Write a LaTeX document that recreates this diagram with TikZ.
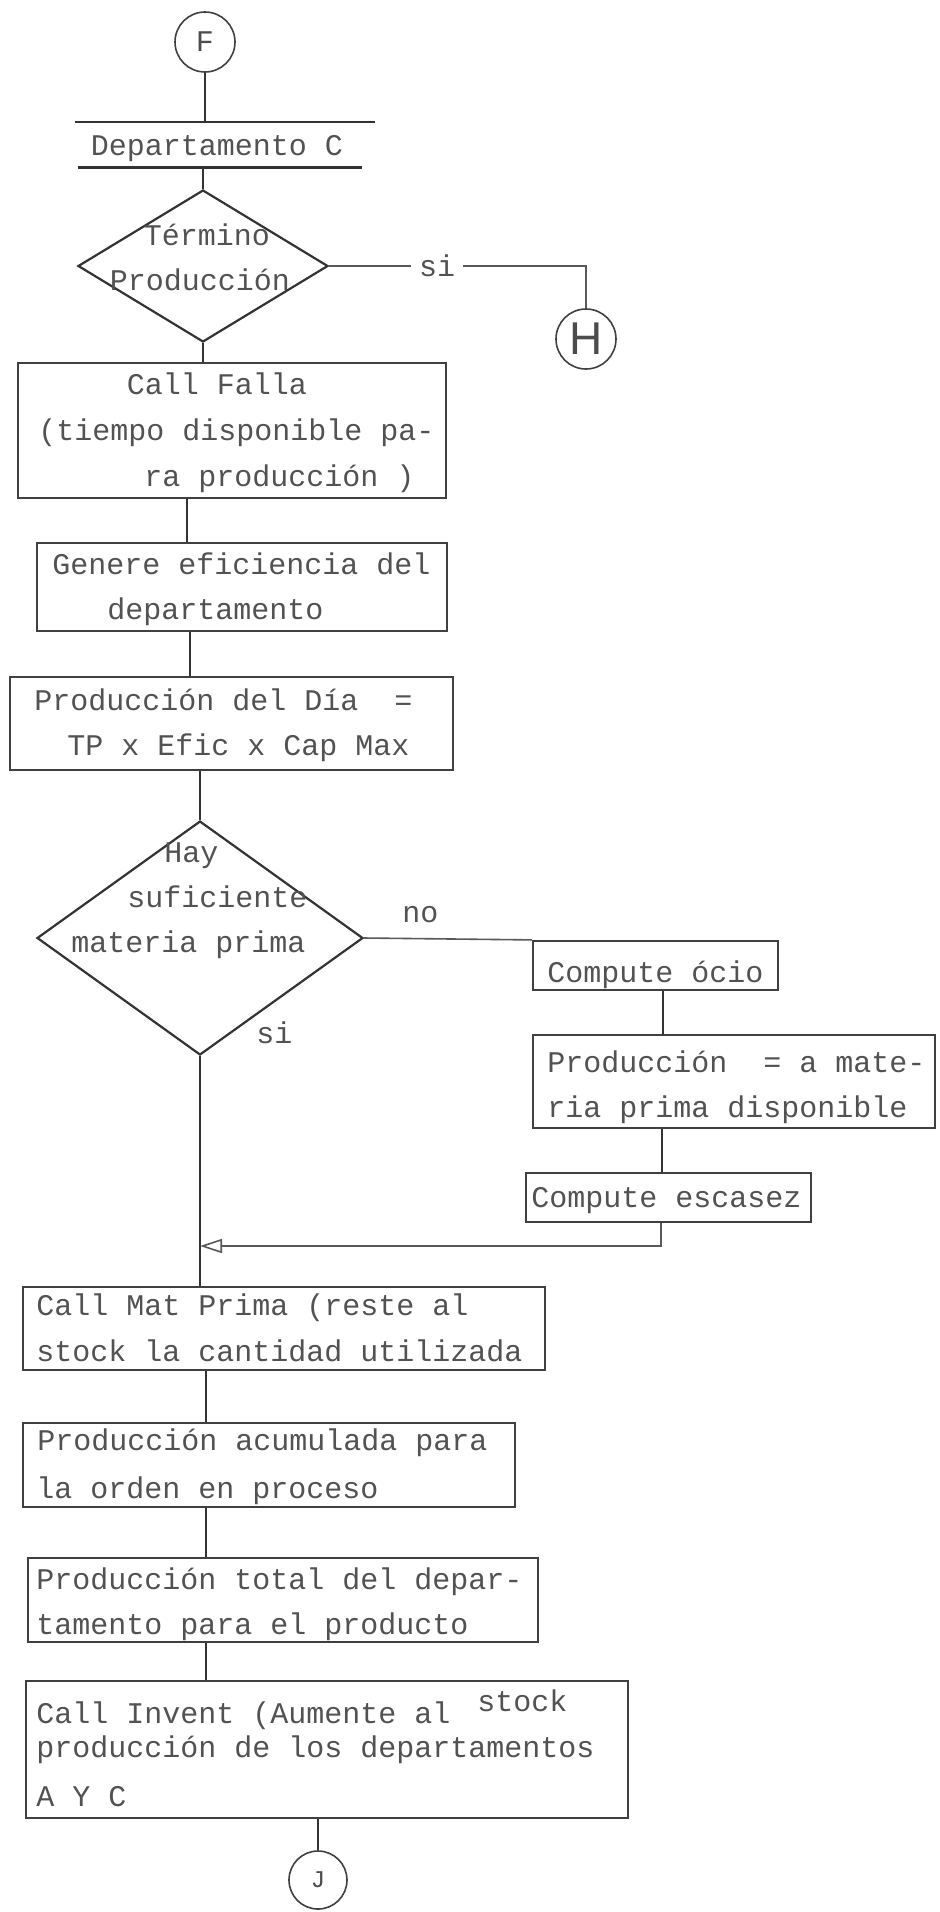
\documentclass[tikz,border=0pt]{standalone}
\usepackage{fontspec}
\newfontfamily\tw{Liberation Mono}
\newfontfamily\hw{Liberation Sans}
\usetikzlibrary{shapes.geometric,arrows.meta,fit}
\begin{document}
\begin{tikzpicture}[x=0.5pt,y=-0.5pt,
  ln/.style={draw=black!80,line width=1.1pt},
  thinln/.style={draw=black!65,line width=0.8pt},
  boxst/.style={draw=black!75,line width=1.1pt,inner sep=0pt,rectangle},
  dia/.style={diamond,draw=black!80,line width=1.1pt,inner sep=0pt},
  conn/.style={circle,draw=black!75,line width=0.8pt,inner sep=0pt,minimum size=30pt,text=black!70},
  tx/.style={font={\tw\fontsize{15pt}{18pt}\selectfont},text=black!68,inner sep=0pt,anchor=base west},
  txc/.style={tx,anchor=base},
  lab/.style={font={\tw\fontsize{15pt}{18pt}\selectfont},text=black!68,fill=white,inner xsep=4pt,inner ysep=1pt}]
\useasboundingbox (0,0) rectangle (940,1912);

% connectors' end nodes
\node[conn] (F) at (205,42) {\tw\fontsize{15pt}{18pt}\selectfont F};
\node[conn] (H) at (586,339) {\hw\fontsize{23pt}{25pt}\selectfont H};
\node[conn,minimum size=29pt] (J) at (318,1880) {\tw\fontsize{12pt}{14pt}\selectfont J};

% Departamento C
\node[minimum width=150pt,minimum height=22.5pt,inner sep=0pt] (dept) at (225,144.5) {};
\draw[ln] (dept.north west) -- (dept.north east);
\draw[ln] ([xshift=1.5pt]dept.south west) -- ([xshift=-6.5pt]dept.south east);
\node[txc] (t1) at (217,155) {Departamento C};

% decision 1
\node[dia,minimum width=125pt,minimum height=76pt] (d1) at (203,266) {};
\node[txc] (t2) at (207,245) {Término};
\node[txc] (t3) at (200,290) {Producción};

% boxes
\node[boxst,fit={(18,363) (446,498)}] (b1) {};
\node[txc] (t4) at (217,394) {Call Falla};
\node[tx] (t5) at (38,440) {(tiempo disponible pa-};
\node[tx] (t6) at (144,486) {ra producción )};

\node[boxst,fit={(37,543) (447,631)}] (b2) {};
\node[tx] (t7) at (52,574) {Genere eficiencia del};
\node[tx] (t8) at (107,619) {departamento};

\node[boxst,fit={(10,677) (453,770)}] (b3) {};
\node[tx] (t9) at (34,710) {Producción del Día~~=};
\node[tx] (t10) at (67,755) {TP x Efic x Cap Max};

% decision 2
\node[dia,minimum width=163pt,minimum height=117pt] (d2) at (200,938) {};
\node[tx] (t11) at (164,862) {Hay};
\node[tx] (t12) at (127,907) {suficiente};
\node[tx] (t13) at (71,952) {materia prima};
\node[tx] (t14) at (402,922) {no};
\node[tx] (t15) at (256,1043) {si};

\node[boxst,fit={(533,941) (778,990)}] (b4) {};
\node[tx] (t16) at (547,982) {Compute ócio};

\node[boxst,fit={(533,1035) (935,1128)}] (b5) {};
\node[tx] (t17) at (547,1072) {Producción~~= a mate-};
\node[tx] (t18) at (547,1117) {ria prima disponible};

\node[boxst,fit={(526,1173) (811,1222)}] (b6) {};
\node[tx] (t19) at (531,1207) {Compute escasez};

\node[boxst,fit={(23,1287) (545,1370)}] (b7) {};
\node[tx] (t20) at (36,1315) {Call Mat Prima (reste al};
\node[tx] (t21) at (36,1361) {stock la cantidad utilizada};

\node[boxst,fit={(23,1423) (515,1507)}] (b8) {};
\node[tx] (t22) at (37,1450) {Producción acumulada para};
\node[tx] (t23) at (36,1498) {la orden en proceso};

\node[boxst,fit={(28,1558) (538,1642)}] (b9) {};
\node[tx] (t24) at (36,1589) {Producción total del depar-};
\node[tx] (t25) at (36,1634) {tamento para el producto};

\node[boxst,fit={(26,1681) (628,1818)}] (b10) {};
\node[tx] (t26) at (36,1723) {Call Invent (Aumente al};
\node[tx] (t27) at (477,1711) {stock};
\node[tx] (t28) at (36,1757) {producción de los departamentos};
\node[tx] (t29) at (36,1806) {A Y C};

% connectors
\draw[ln] (F) -- (F |- dept.north);
\draw[ln] (dept.south -| d1.north) -- (d1.north);
\draw[thinln] (d1.east) -| (H.north) node[lab,pos=0.21] (si1) {si};
\draw[ln] (d1.south) -- (d1.south |- b1.north);
\draw[ln] (b1.south -| 187,0) -- (b2.north -| 187,0);
\draw[ln] (b2.south -| 190,0) -- (b3.north -| 190,0);
\draw[ln] (b3.south -| d2.north) -- (d2.north);
\draw[thinln] (d2.east) -- (b4.north west);
\draw[ln] (b4.south -| 663,0) -- (b5.north -| 663,0);
\draw[ln] (b5.south -| 662,0) -- (b6.north -| 662,0);
\draw[thinln,-{Triangle[open,length=11pt,width=7pt]}] (b6.south -| 661,0) |- (d2.south |- 0,1246);
\draw[ln] (d2.south) -- (d2.south |- b7.north);
\draw[ln] (b7.south -| 206,0) -- (b8.north -| 206,0);
\draw[ln] (b8.south -| 206,0) -- (b9.north -| 206,0);
\draw[ln] (b9.south -| 206,0) -- (b10.north -| 206,0);
\draw[ln] (b10.south -| J) -- (J);
\end{tikzpicture}
\end{document}
